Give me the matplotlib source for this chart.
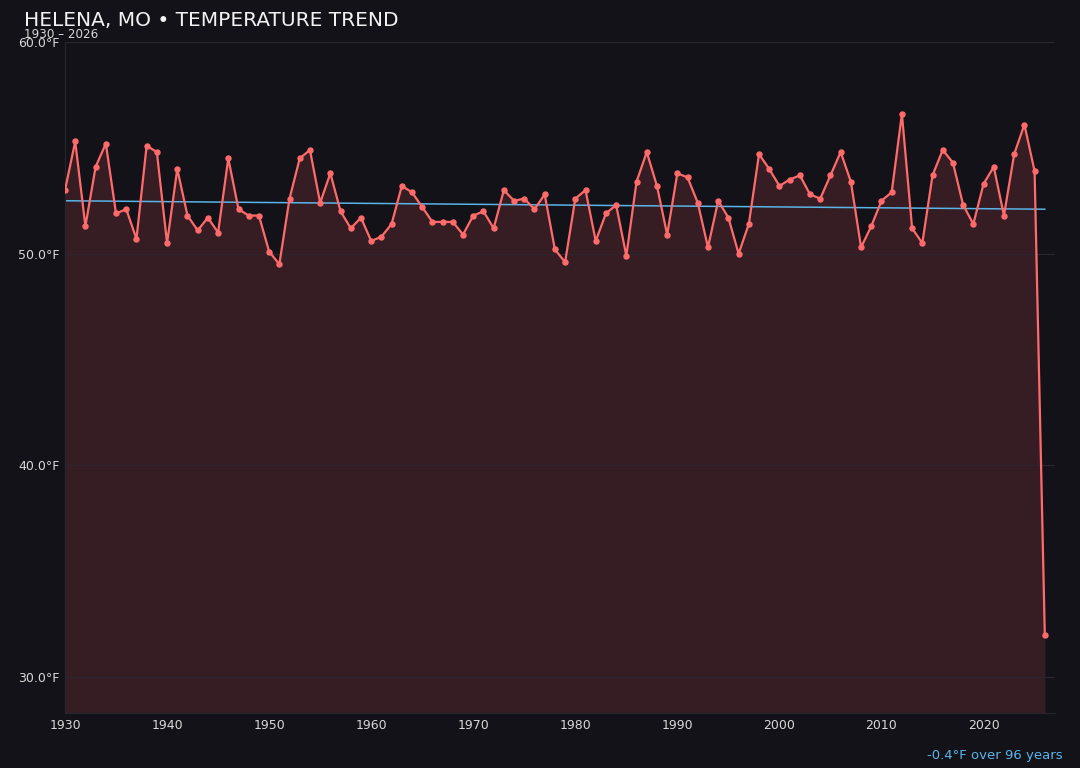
import numpy as np
import matplotlib
matplotlib.use("Agg")
import matplotlib.pyplot as plt

years = list(range(1930, 2027))
temps = [
    53.0, 55.3, 51.3, 54.1, 55.2, 51.9, 52.1, 50.7, 55.1, 54.8,
    50.5, 54.0, 51.8, 51.1, 51.7, 51.0, 54.5, 52.1, 51.8, 51.8,
    50.1, 49.5, 52.6, 54.5, 54.9, 52.4, 53.8, 52.0, 51.2, 51.7,
    50.6, 50.8, 51.4, 53.2, 52.9, 52.2, 51.5, 51.5, 51.5, 50.9,
    51.8, 52.0, 51.2, 53.0, 52.5, 52.6, 52.1, 52.8, 50.2, 49.6,
    52.6, 53.0, 50.6, 51.9, 52.3, 49.9, 53.4, 54.8, 53.2, 50.9,
    53.8, 53.6, 52.4, 50.3, 52.5, 51.7, 50.0, 51.4, 54.7, 54.0,
    53.2, 53.5, 53.7, 52.8, 52.6, 53.7, 54.8, 53.4, 50.3, 51.3,
    52.5, 52.9, 56.6, 51.2, 50.5, 53.7, 54.9, 54.3, 52.3, 51.4,
    53.3, 54.1, 51.8, 54.7, 56.1, 53.9, 32.0,
]
trend_start = 52.5
trend_end = 52.1
title = "HELENA, MO • TEMPERATURE TREND"
subtitle = "1930 – 2026"
note = "-0.4°F over 96 years"

BG = "#131218"
LINE = "#ff6b6b"
FILL = "#3a1f26"
TREND = "#5ab4e8"
TXT = "#d8d8d8"

x = np.array(years)
y = np.array(temps)

fig = plt.figure(figsize=(10.8, 7.68), dpi=100, facecolor=BG)
ax = fig.add_axes([65/1080, 1 - 713/768, (1055-65)/1080, (713-42)/768])
ax.set_facecolor(BG)

ymin, ymax = 28.3, 60.0
ax.fill_between(x, y, ymin, color=FILL, alpha=0.9, linewidth=0, zorder=1)
ax.plot(x, y, color=LINE, lw=1.6, marker="o", ms=3.6, zorder=3)
ax.plot([x[0], x[-1]], [trend_start, trend_end], color=TREND, lw=1.1, zorder=2)

ax.set_xlim(1930, 2027)
ax.set_ylim(ymin, ymax)
ax.set_xticks([1930, 1940, 1950, 1960, 1970, 1980, 1990, 2000, 2010, 2020])
ax.set_yticks([30, 40, 50, 60])
ax.set_yticklabels([f"{v:.1f}°F" for v in [30, 40, 50, 60]])
ax.tick_params(colors=TXT, labelsize=9, length=0, pad=4)
ax.grid(axis="y", color="#2a2530", lw=0.8, zorder=0)
for s in ["top", "right"]:
    ax.spines[s].set_visible(False)
for s in ["left", "bottom"]:
    ax.spines[s].set_color("#262630")
    ax.spines[s].set_linewidth(0.8)

fig.text(24/1080, 1 - 21/768, title, color="#f2f2f2", fontsize=14.5, va="center", ha="left")
fig.text(24/1080, 1 - 35/768, subtitle, color=TXT, fontsize=8.6, va="center", ha="left")
fig.text(1063/1080, 1 - 756/768, note, color=TREND, fontsize=9.5, va="center", ha="right")

fig.savefig("out.png", dpi=100, facecolor=BG)
